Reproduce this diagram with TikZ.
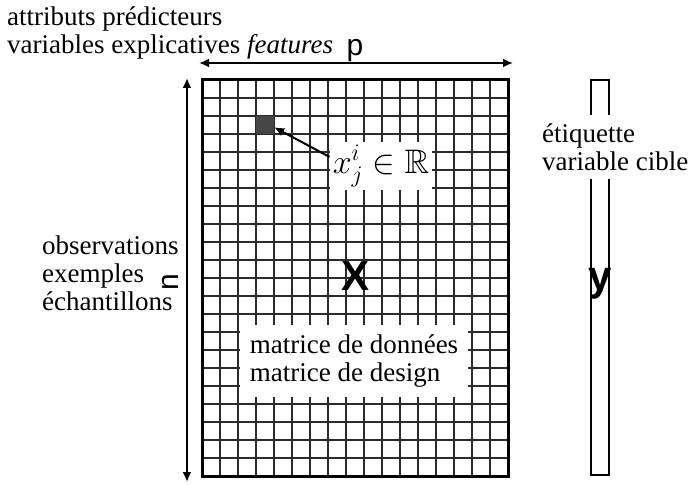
\RequirePackage{fix-cm}
\documentclass[tikz,border=0pt]{standalone}
\usepackage{amssymb}
\usepackage{fontspec}
\setmainfont{Liberation Serif}
\setsansfont{Liberation Sans}
\usetikzlibrary{arrows.meta}
\definecolor{grille}{HTML}{2B2B2B}
\definecolor{cellule}{HTML}{454545}

\begin{document}
\begin{tikzpicture}[x=1pt, y=-1pt,
  texte/.style={font=\fontsize{27}{28}\selectfont, align=left, inner sep=2pt},
  lettre/.style={font=\sffamily\fontsize{30}{30}\selectfont, inner sep=0pt},
  grosse/.style={font=\sffamily\bfseries\fontsize{42}{42}\selectfont, inner sep=0pt},
  fleche/.style={line width=2pt, -{Latex[length=10pt, width=9pt]}},
  trait/.style={grille, line width=1.5pt}]
  \useasboundingbox (0,0) rectangle (692,484);

  % matrice X : 17 colonnes, 22 lignes
  \foreach \i in {1,...,16}
    \draw[trait] (202+18*\i,80) -- (202+18*\i,476);
  \foreach \j in {1,...,21}
    \draw[trait] (202,80+18*\j) -- (508,80+18*\j);
  \draw[line width=3pt] (202,80) rectangle (508,476);
  \node[fill=cellule, minimum size=18pt, inner sep=0pt] (cell) at (265,125) {};
  \node[grosse, anchor=base] (X) at (355,290) {X};

  % vecteur y
  \node[draw, line width=2pt, minimum width=18pt, minimum height=395pt, inner sep=0pt] (vec) at (600,277.5) {};
  \node[grosse, anchor=base] (y) at (600,290) {y};

  % fleches p et n
  \coordinate (pg) at (199,63);
  \coordinate (pd) at (513,63);
  \draw[fleche, {Latex[length=10pt, width=9pt]}-{Latex[length=10pt, width=9pt]}] (pg) -- (pd);
  \node[lettre, anchor=base] (p) at (355,56) {p};
  \coordinate (nh) at (187,78);
  \coordinate (nb) at (187,482);
  \draw[fleche, {Latex[length=10pt, width=9pt]}-{Latex[length=10pt, width=9pt]}] (nh) -- (nb);
  \node[lettre, rotate=90] (n) at (170,282) {n};

  % textes
  \node[texte, anchor=north west] (attr) at (5,5) {attributs prédicteurs\\variables explicatives \textit{features}};
  \node[texte, anchor=west] (obs) at (40,273) {observations\\exemples\\échantillons};
  \node[texte, fill=white, inner sep=8pt, anchor=west] (cible) at (534,147) {étiquette\\variable cible};
  \node[texte, fill=white, inner xsep=10pt, inner ysep=10pt] (mat) at (354,361) {matrice de données\\matrice de design};
  \node[fill=white, inner sep=3pt, font=\fontsize{34}{34}\selectfont] (xij) at (381,166) {$x^i_j \in \mathbb{R}$};
  \draw[fleche] (xij.170) -- (cell.-14);
\end{tikzpicture}
\end{document}
